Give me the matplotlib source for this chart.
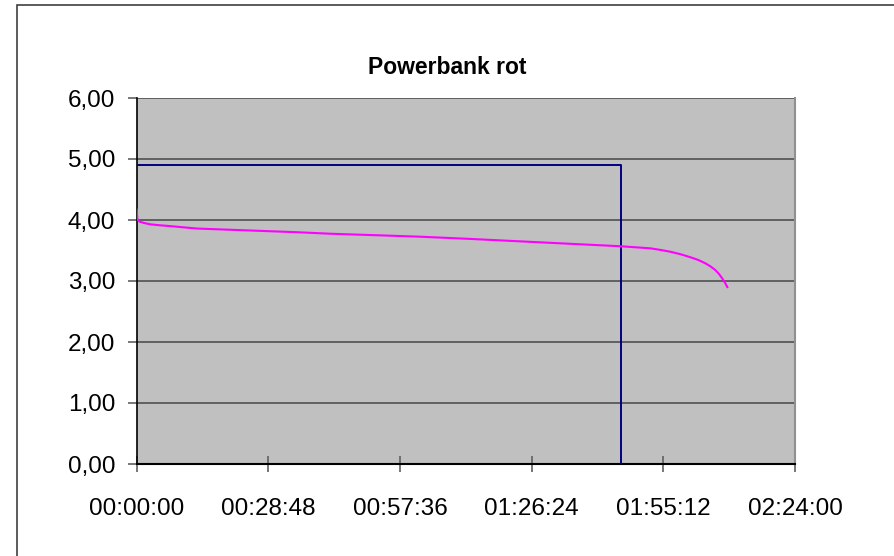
import matplotlib
matplotlib.use("Agg")
import matplotlib.pyplot as plt
from matplotlib.ticker import FuncFormatter, FixedLocator
from matplotlib.patches import Rectangle

# Spannung (rot) und Ausgang (blau) ueber die Zeit
zeit_rot = ["00:00:00", "00:00:10", "00:00:43", "00:01:40", "00:02:55", "00:04:50",
            "00:07:17", "00:13:12",
            "00:20:25", "00:27:39", "00:35:05", "00:42:18", "00:52:35", "01:02:00",
            "01:12:57", "01:23:53", "01:34:50", "01:45:46", "01:52:20", "01:54:33",
            "01:56:43", "01:58:55", "02:01:06", "02:02:50", "02:04:23", "02:05:30",
            "02:06:34", "02:07:23", "02:08:06", "02:08:42", "02:09:12"]
spannung_rot = [4.17, 4.00, 3.97, 3.95, 3.93, 3.915,
                3.90, 3.86,
                3.84, 3.82, 3.80, 3.775, 3.75, 3.726,
                3.69, 3.65, 3.61, 3.57, 3.536, 3.51,
                3.48, 3.44, 3.39, 3.345, 3.29, 3.24,
                3.18, 3.115, 3.04, 2.97, 2.90]

zeit_blau = ["00:00:00", "01:45:59", "01:45:59"]
spannung_blau = [4.90, 4.90, 0.00]

x_ticks = ["00:00:00", "00:28:48", "00:57:36", "01:26:24", "01:55:12", "02:24:00"]
y_ticks = [0, 1, 2, 3, 4, 5, 6]


def sek(s):
    h, m, x = s.split(":")
    return int(h) * 3600 + int(m) * 60 + int(x)


def hms(v, pos=None):
    v = int(round(v))
    return "%02d:%02d:%02d" % (v // 3600, (v % 3600) // 60, v % 60)


plt.rcParams['font.family'] = ['Liberation Sans', 'DejaVu Sans']

fig = plt.figure(figsize=(8.95, 5.56), dpi=100)
fig.patches.append(Rectangle((16.5 / 895, -0.1), 1.2, 1.1 - 4.5 / 556,
                             transform=fig.transFigure, fill=False,
                             edgecolor='#404040', linewidth=1.2))

ax = fig.add_axes([136.7 / 895, 1 - 464 / 556, (795 - 136.7) / 895, (464 - 98) / 556])
ax.set_facecolor('#C0C0C0')

ax.plot([sek(t) for t in zeit_blau], spannung_blau, color='#000080', linewidth=1.4, zorder=3)
ax.plot([sek(t) for t in zeit_rot], spannung_rot, color='#FF00FF', linewidth=1.5, zorder=4)

ax.set_xlim(0, sek("02:24:00"))
ax.set_ylim(0, 6)
ax.xaxis.set_major_locator(FixedLocator([sek(t) for t in x_ticks]))
ax.xaxis.set_major_formatter(FuncFormatter(hms))
ax.yaxis.set_major_locator(FixedLocator(y_ticks))
ax.yaxis.set_major_formatter(FuncFormatter(lambda v, p: ("%.2f" % v).replace(".", ",")))

ax.set_axisbelow(True)
ax.grid(axis='y', color='#606060', linewidth=1.4)

ax.tick_params(axis='x', direction='inout', length=12, width=1.2, color='#606060',
               pad=18.5, labelsize=17.5)
ax.tick_params(axis='y', direction='out', length=6.5, width=1.2, color='#606060',
               pad=9, labelsize=17.5)

ax.spines['top'].set_visible(False)
ax.spines['right'].set_color('#909090')
ax.spines['right'].set_linewidth(1.5)
ax.spines['left'].set_color('black')
ax.spines['bottom'].set_color('black')
ax.spines['left'].set_linewidth(1.2)
ax.spines['bottom'].set_linewidth(1.5)

fig.text(447.5 / 895, 1 - 68 / 556, "Powerbank rot", ha='center', va='center',
         fontsize=16.5, fontweight='bold')

plt.savefig('out.png', dpi=100)
